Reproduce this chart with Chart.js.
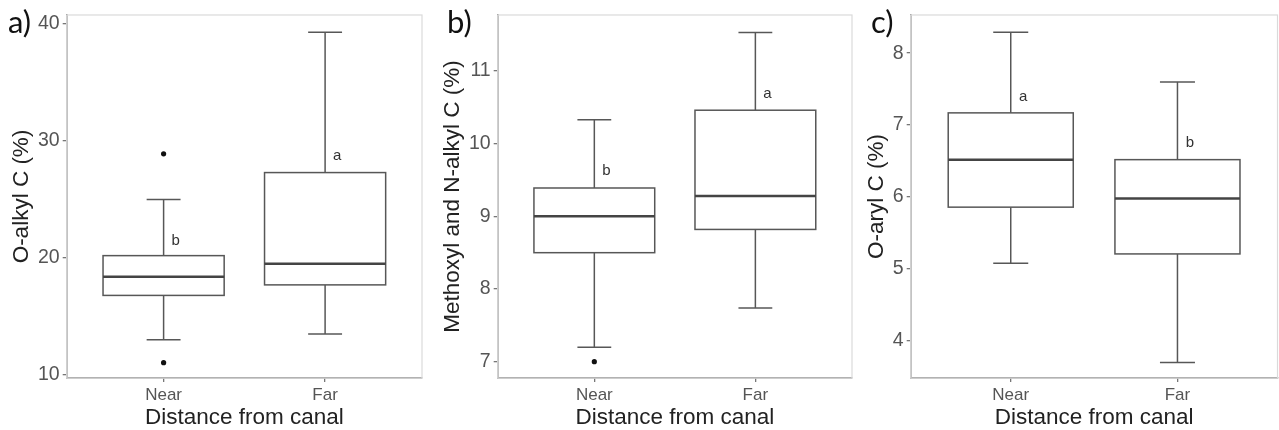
<!DOCTYPE html>
<html>
<head>
<meta charset="utf-8">
<script src="https://cdn.jsdelivr.net/npm/chart.js@4.4.1/dist/chart.umd.min.js"></script>
<style>
  html, body { margin: 0; padding: 0; background: #fff; width: 1279px; height: 430px; overflow: hidden; }
  canvas { position: absolute; top: 0; }
</style>
</head>
<body>
<canvas id="panelA" width="426" height="430" style="left:0px"></canvas>
<canvas id="panelB" width="430" height="430" style="left:426px"></canvas>
<canvas id="panelC" width="423" height="430" style="left:856px"></canvas>
<script>
// Groups on the x axis
const categories = ['Near', 'Far'];

// a) O-alkyl C (%) box statistics per group
const oAlkylMin    = [13.0, 13.5];
const oAlkylQ1     = [16.8, 17.7];
const oAlkylMedian = [18.4, 19.5];
const oAlkylQ3     = [20.2, 27.3];
const oAlkylMax    = [25.0, 39.3];
const oAlkylOutlierGroup = ['Near', 'Near'];
const oAlkylOutlierValue = [28.9, 11.05];
const oAlkylLetters  = ['b', 'a'];
const oAlkylLetterAt = [21.5, 28.7];
const oAlkylTicks = [10, 20, 30, 40];
const oAlkylRange = [9.74, 40.77];

// b) Methoxyl and N-alkyl C (%)
const methoxylMin    = [7.2, 7.74];
const methoxylQ1     = [8.5, 8.82];
const methoxylMedian = [9.0, 9.28];
const methoxylQ3     = [9.39, 10.46];
const methoxylMax    = [10.33, 11.53];
const methoxylOutlierGroup = ['Near'];
const methoxylOutlierValue = [7.0];
const methoxylLetters  = ['b', 'a'];
const methoxylLetterAt = [9.62, 10.68];
const methoxylTicks = [7, 8, 9, 10, 11];
const methoxylRange = [6.776, 11.77];

// c) O-aryl C (%)
const oArylMin    = [5.08, 3.70];
const oArylQ1     = [5.86, 5.21];
const oArylMedian = [6.52, 5.98];
const oArylQ3     = [7.17, 6.52];
const oArylMax    = [8.29, 7.60];
const oArylOutlierGroup = [];
const oArylOutlierValue = [];
const oArylLetters  = ['a', 'b'];
const oArylLetterAt = [7.39, 6.76];
const oArylTicks = [4, 5, 6, 7, 8];
const oArylRange = [3.486, 8.53];

const SANS = '"Liberation Sans", Arial, sans-serif';

// Draws the panel frame, whiskers, boxes, medians, group letters and the panel tag
const boxPlotPlugin = {
  id: 'boxplot',
  beforeDatasetsDraw(chart) {
    const s = chart.options.plugins.boxplot;
    const { ctx, chartArea: a, scales: { x, y } } = chart;
    ctx.save();
    ctx.strokeStyle = '#dadada';
    ctx.lineWidth = 1.2;
    ctx.strokeRect(a.left, a.top, a.right - a.left, a.bottom - a.top);

    const line = (x1, y1, x2, y2) => { ctx.beginPath(); ctx.moveTo(x1, y1); ctx.lineTo(x2, y2); ctx.stroke(); };
    s.q1.forEach((_, i) => {
      const pos = i + 1;
      const xc = x.getPixelForValue(pos);
      const xl = x.getPixelForValue(pos - 0.375), xr = x.getPixelForValue(pos + 0.375);
      const cl = x.getPixelForValue(pos - 0.105), cr = x.getPixelForValue(pos + 0.105);
      const yMin = y.getPixelForValue(s.min[i]), yQ1 = y.getPixelForValue(s.q1[i]);
      const yMed = y.getPixelForValue(s.median[i]);
      const yQ3 = y.getPixelForValue(s.q3[i]), yMax = y.getPixelForValue(s.max[i]);
      ctx.strokeStyle = '#575757';
      ctx.lineWidth = 1.5;
      line(xc, yQ3, xc, yMax); line(cl, yMax, cr, yMax);
      line(xc, yQ1, xc, yMin); line(cl, yMin, cr, yMin);
      ctx.fillStyle = '#fff';
      ctx.fillRect(xl, yQ3, xr - xl, yQ1 - yQ3);
      ctx.strokeRect(xl, yQ3, xr - xl, yQ1 - yQ3);
      ctx.strokeStyle = '#444';
      ctx.lineWidth = 2.5;
      line(xl, yMed, xr, yMed);
    });
    ctx.restore();
  },
  afterDraw(chart) {
    const s = chart.options.plugins.boxplot;
    const { ctx, scales: { x, y } } = chart;
    ctx.save();
    ctx.fillStyle = '#333';
    ctx.font = '15px ' + SANS;
    ctx.textAlign = 'center';
    ctx.textBaseline = 'middle';
    s.letters.forEach((t, i) => ctx.fillText(t, x.getPixelForValue(i + 1.075), y.getPixelForValue(s.letterAt[i])));
    ctx.fillStyle = '#111';
    ctx.font = '31px Lato, "Open Sans", sans-serif';
    ctx.textAlign = 'left';
    ctx.fillText(s.tag, s.tagX, 23);
    ctx.restore();
  }
};

function makePanel(id, p) {
  const outliers = p.outlierGroup.map((g, i) => ({ x: categories.indexOf(g) + 1, y: p.outlierValue[i] }));
  return new Chart(document.getElementById(id), {
    type: 'scatter',
    data: {
      datasets: [{
        data: outliers,
        pointRadius: 2.6,
        pointBackgroundColor: '#111',
        pointBorderWidth: 0
      }]
    },
    plugins: [boxPlotPlugin],
    options: {
      responsive: false,
      animation: false,
      events: [],
      layout: { padding: { top: 15, right: p.rightPad, left: 0, bottom: 0 } },
      plugins: {
        legend: { display: false },
        tooltip: { enabled: false },
        boxplot: {
          min: p.min, q1: p.q1, median: p.median, q3: p.q3, max: p.max,
          letters: p.letters, letterAt: p.letterAt, tag: p.tag, tagX: p.tagX
        }
      },
      scales: {
        x: {
          type: 'linear', min: 0.4, max: 2.6,
          afterBuildTicks: sc => { sc.ticks = categories.map((_, i) => ({ value: i + 1 })); },
          afterFit: sc => { sc.height = 52; },
          ticks: {
            callback: v => categories[Math.round(v) - 1],
            color: '#555', font: { family: SANS, size: 17 }, padding: 3,
            autoSkip: false, maxRotation: 0
          },
          grid: { display: true, drawOnChartArea: false, drawTicks: true, tickLength: 4, color: '#777', lineWidth: 1.3 },
          border: { display: true, color: '#777', width: 1.5 },
          title: { display: true, text: 'Distance from canal', color: '#222',
                   font: { family: SANS, size: 22.5, lineHeight: 1.1 }, padding: { top: 0, bottom: 0 } }
        },
        y: {
          type: 'linear', min: p.range[0], max: p.range[1],
          afterBuildTicks: sc => { sc.ticks = p.ticks.map(v => ({ value: v })); },
          afterFit: sc => { sc.width = p.axisWidth; },
          ticks: { color: '#555', font: { family: SANS, size: 19.5 }, padding: 3 },
          grid: { display: true, drawOnChartArea: false, drawTicks: true, tickLength: 4, color: '#777', lineWidth: 1.3 },
          border: { display: true, color: '#777', width: 1.5 },
          title: { display: true, text: p.title, color: '#222',
                   font: { family: SANS, size: 22.5 }, padding: { top: p.titlePad, bottom: 0 } }
        }
      }
    }
  });
}

makePanel('panelA', {
  min: oAlkylMin, q1: oAlkylQ1, median: oAlkylMedian, q3: oAlkylQ3, max: oAlkylMax,
  outlierGroup: oAlkylOutlierGroup, outlierValue: oAlkylOutlierValue,
  letters: oAlkylLetters, letterAt: oAlkylLetterAt, ticks: oAlkylTicks, range: oAlkylRange,
  title: 'O-alkyl C (%)', tag: 'a)', tagX: 8, axisWidth: 66.7, titlePad: 8, rightPad: 3
});
makePanel('panelB', {
  min: methoxylMin, q1: methoxylQ1, median: methoxylMedian, q3: methoxylQ3, max: methoxylMax,
  outlierGroup: methoxylOutlierGroup, outlierValue: methoxylOutlierValue,
  letters: methoxylLetters, letterAt: methoxylLetterAt, ticks: methoxylTicks, range: methoxylRange,
  title: 'Methoxyl and N-alkyl C (%)', tag: 'b)', tagX: 21, axisWidth: 71.7, titlePad: 13, rightPad: 3
});
makePanel('panelC', {
  min: oArylMin, q1: oArylQ1, median: oArylMedian, q3: oArylQ3, max: oArylMax,
  outlierGroup: oArylOutlierGroup, outlierValue: oArylOutlierValue,
  letters: oArylLetters, letterAt: oArylLetterAt, ticks: oArylTicks, range: oArylRange,
  title: 'O-aryl C (%)', tag: 'c)', tagX: 15, axisWidth: 54.7, titlePad: 7, rightPad: 1.5
});
</script>
</body>
</html>
